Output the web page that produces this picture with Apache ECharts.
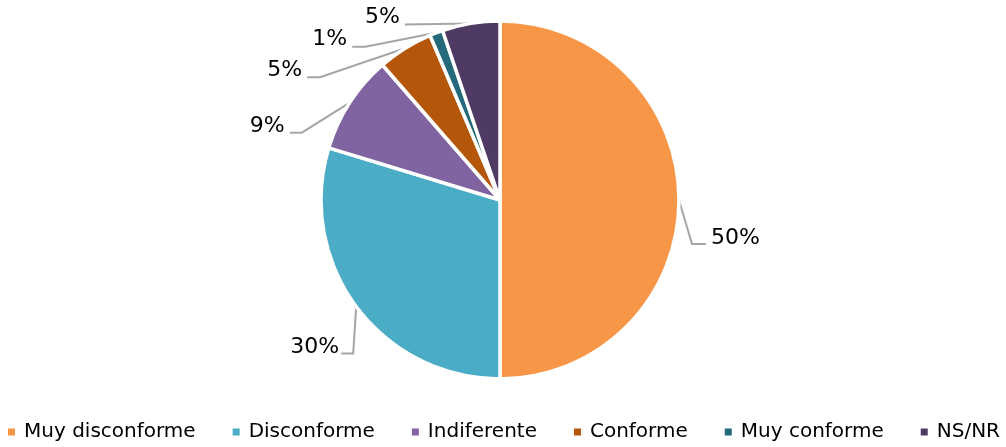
<!DOCTYPE html>
<html>
<head>
<meta charset="utf-8">
<script src="https://cdn.jsdelivr.net/npm/echarts@6/dist/echarts.min.js"></script>
<style>
html,body{margin:0;padding:0;background:#fff;}
#chart{width:1006px;height:447px;}
</style>
</head>
<body>
<div id="chart"></div>
<script>
const categories = ['Muy disconforme', 'Disconforme', 'Indiferente', 'Conforme', 'Muy conforme', 'NS/NR'];
const values = [50.0, 29.7, 8.9, 5.0, 1.2, 5.2];
const colors = ['#F79646', '#4BACC6', '#8064A2', '#B5570A', '#246A7A', '#4E3A62'];

// label placement relative to the leader line start (on the slice edge)
const labelOffsets = [
  { bend: [13, 44], end: [27, 44], text: [32, 38], align: 'left' },
  { bend: [-3, 47], end: [-15, 47], text: [-17, 41], align: 'right' },
  { bend: [-48, 30], end: [-60, 30], text: [-65, 24], align: 'right' },
  { bend: [-85, 29], end: [-98, 29], text: [-103, 22], align: 'right' },
  { bend: [-71, 14], end: [-84, 14], text: [-89, 7], align: 'right' },
  { bend: [-66, 1], end: [-66, 1], text: [-71, -6], align: 'right' }
];

const chart = echarts.init(document.getElementById('chart'), null, { renderer: 'canvas' });
const option = {
  backgroundColor: '#ffffff',
  animation: false,
  color: colors,
  legend: {
    bottom: 0,
    left: 'center',
    icon: 'rect',
    itemWidth: 9,
    itemHeight: 9,
    itemGap: 35,
    textStyle: { fontFamily: 'DejaVu Sans', fontSize: 20, color: '#000', padding: [0, 0, 0, 3] },
    data: categories
  },
  series: [{
    type: 'pie',
    center: [500, 200],
    radius: 179,
    startAngle: 90,
    clockwise: true,
    avoidLabelOverlap: false,
    itemStyle: { borderColor: '#ffffff', borderWidth: 3.5 },
    label: {
      show: true,
      position: 'outside',
      fontFamily: 'DejaVu Sans',
      fontSize: 22,
      color: '#000',
      formatter: function (p) { return Math.round(p.percent) + '%'; }
    },
    labelLine: {
      show: true,
      length: 10,
      length2: 10,
      lineStyle: { color: '#A6A6A6', width: 2 }
    },
    labelLayout: function (params) {
      const o = labelOffsets[params.dataIndex];
      const pts = params.labelLinePoints;
      if (!pts) return {};
      const p0 = [pts[0][0], pts[0][1]];
      return {
        x: p0[0] + o.text[0],
        y: p0[1] + o.text[1],
        align: o.align,
        verticalAlign: 'middle',
        labelLinePoints: [
          p0,
          [p0[0] + o.bend[0], p0[1] + o.bend[1]],
          [p0[0] + o.end[0], p0[1] + o.end[1]]
        ]
      };
    },
    emphasis: { disabled: true },
    data: categories.map(function (c, i) { return { name: c, value: values[i] }; })
  }]
};
chart.setOption(option);
</script>
</body>
</html>
